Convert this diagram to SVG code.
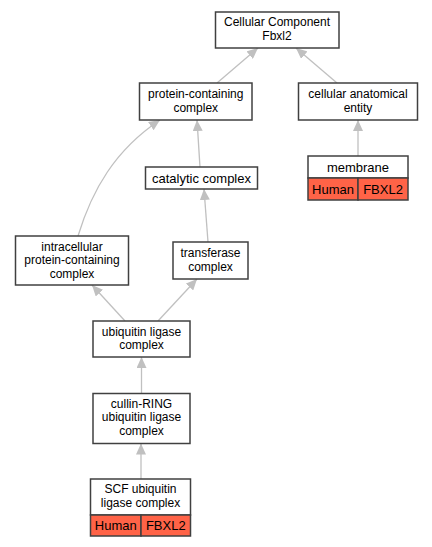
<svg xmlns="http://www.w3.org/2000/svg" width="432" height="547" viewBox="0 0 432 547">
<style>
.box{fill:#ffffff;stroke:#404040;stroke-width:1.5}
.red{fill:#ff6347;stroke:#404040;stroke-width:1.5}
text{font-family:"Liberation Sans",Arial,sans-serif;font-size:12px;fill:#000;text-anchor:middle}
.w{font-size:13px}
.edge{fill:none;stroke:#c0c0c0;stroke-width:1.3}
</style>
<defs>
<marker id="ah" viewBox="0 0 11 10" refX="11" refY="5" markerWidth="11" markerHeight="10" markerUnits="userSpaceOnUse" orient="auto">
<path d="M0,0 L11,5 L0,10 z" fill="#c0c0c0"/>
</marker>
</defs>
<rect width="432" height="547" fill="#ffffff"/>
<g id="edges">
<path class="edge" marker-end="url(#ah)" d="M217,83 L258,48"/>
<path class="edge" marker-end="url(#ah)" d="M337,83 L296,48"/>
<path class="edge" marker-end="url(#ah)" d="M358,156 L358,120"/>
<path class="edge" marker-end="url(#ah)" d="M200,167 L197,120"/>
<path class="edge" marker-end="url(#ah)" d="M208,242 L204,189"/>
<path class="edge" marker-end="url(#ah)" d="M78,236 C92,190 115,150 160,120"/>
<path class="edge" marker-end="url(#ah)" d="M125,321 L92,285"/>
<path class="edge" marker-end="url(#ah)" d="M158,321 L197,279"/>
<path class="edge" marker-end="url(#ah)" d="M141.5,393.5 L141.5,357"/>
<path class="edge" marker-end="url(#ah)" d="M141,479 L141,443.5"/>
</g>
<g id="n_cc">
<rect class="box" x="215.5" y="12" width="123.5" height="36"/>
<text x="277" y="26">Cellular Component</text>
<text x="277" y="39.5">Fbxl2</text>
</g>
<g id="n_pcc">
<rect class="box" x="139.5" y="83" width="112.5" height="37"/>
<text x="195.75" y="98">protein-containing</text>
<text x="195.75" y="111.5">complex</text>
</g>
<g id="n_cae">
<rect class="box" x="298.5" y="83" width="119" height="37"/>
<text x="358" y="98">cellular anatomical</text>
<text x="358" y="111.5">entity</text>
</g>
<g id="n_membrane">
<rect class="box" x="308" y="156" width="100" height="22"/>
<rect class="red" x="308" y="178" width="50" height="22"/>
<rect class="red" x="358" y="178" width="50" height="22"/>
<text class="w" x="358" y="171.5">membrane</text>
<text class="w" x="333" y="193.5">Human</text>
<text class="w" x="383" y="193.5">FBXL2</text>
</g>
<g id="n_catalytic">
<rect class="box" x="145.5" y="167" width="112" height="22"/>
<text class="w" x="201.5" y="182.5">catalytic complex</text>
</g>
<g id="n_intracellular">
<rect class="box" x="15.5" y="236" width="113" height="49"/>
<text x="72" y="250.5">intracellular</text>
<text x="72" y="264">protein-containing</text>
<text x="72" y="277.5">complex</text>
</g>
<g id="n_transferase">
<rect class="box" x="173" y="242" width="75" height="37"/>
<text x="210.5" y="257">transferase</text>
<text x="210.5" y="270.5">complex</text>
</g>
<g id="n_ubiquitin">
<rect class="box" x="93" y="321" width="97" height="36"/>
<text x="141.5" y="335.5">ubiquitin ligase</text>
<text x="141.5" y="349">complex</text>
</g>
<g id="n_cullin">
<rect class="box" x="93" y="393.5" width="97" height="50"/>
<text x="141.5" y="407.5">cullin-RING</text>
<text x="141.5" y="421">ubiquitin ligase</text>
<text x="141.5" y="434.5">complex</text>
</g>
<g id="n_scf">
<rect class="box" x="90.5" y="479" width="100" height="36"/>
<rect class="red" x="90.5" y="515" width="50.5" height="21"/>
<rect class="red" x="141" y="515" width="49.5" height="21"/>
<text x="140.5" y="493">SCF ubiquitin</text>
<text x="140.5" y="506.5">ligase complex</text>
<text class="w" x="115.75" y="529.5">Human</text>
<text class="w" x="165.75" y="529.5">FBXL2</text>
</g>
</svg>
